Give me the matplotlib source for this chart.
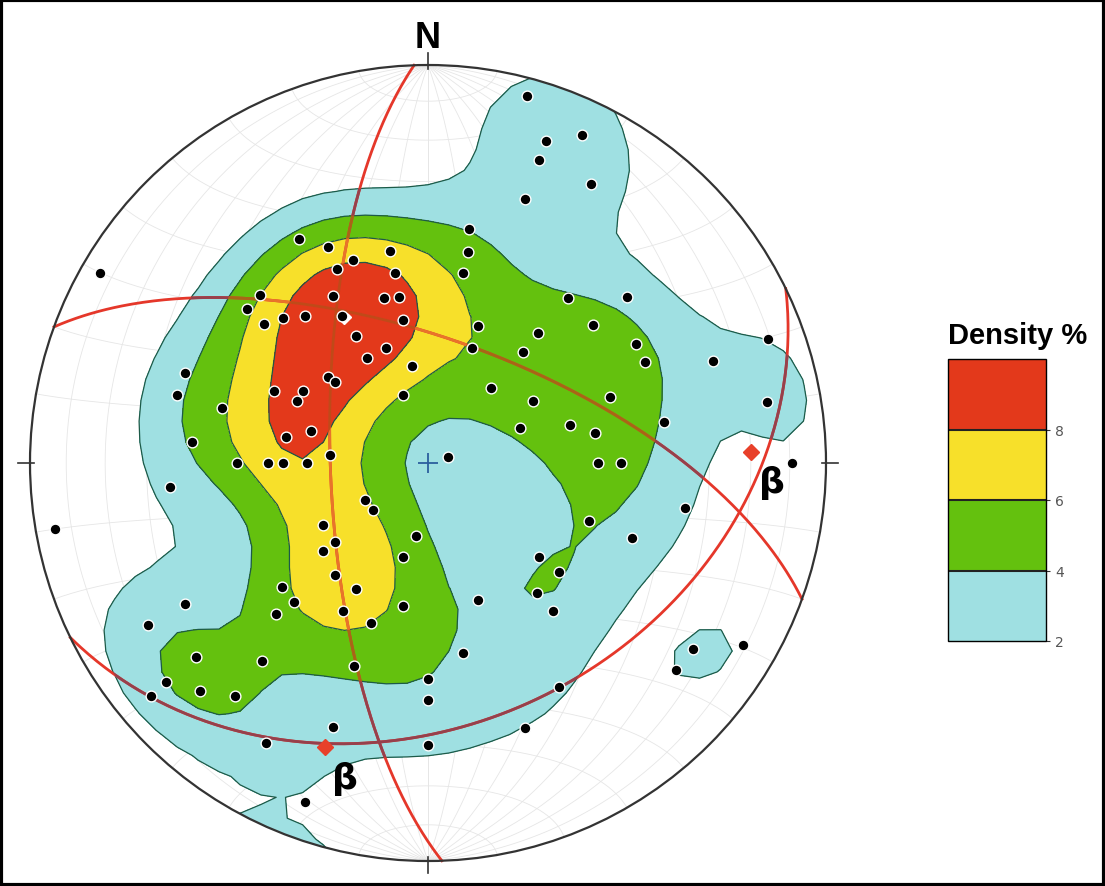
#!/usr/bin/env python3

"""pole density stereonet (equal area, lower hemisphere)"""

import numpy as np
import matplotlib.pyplot as plt
from matplotlib.patches import Circle, Rectangle

# poles, in net coordinates (east, north) of the unit primitive circle
pole_x = [-0.824, -0.324, -0.251, -0.095, -0.188, -0.229, -0.083, -0.422, -0.239, -0.111,
          -0.073, -0.455, -0.364, -0.309, -0.216, -0.412, -0.063, -0.181, -0.106, -0.153,
          -0.040, -0.251, -0.234, -0.611, -0.631, -0.387, -0.314, -0.329, -0.063, -0.518,
          -0.294, -0.357, -0.593, -0.246, -0.480, -0.402, -0.364, -0.304,
          0.249, 0.387, 0.296, 0.279, 0.410, 0.244, 0.103, 0.101, 0.088, 0.352,
          0.500, 0.126, 0.415, 0.276, 0.523, 0.111, 0.239, 0.545, 0.716, 0.854,
          0.158, 0.264, 0.457, 0.852, 0.231, 0.357, 0.420, 0.593, 0.050, 0.427,
          0.485, 0.915,
          -0.648, -0.937, -0.158, -0.138, -0.264, -0.234, -0.264, -0.030, -0.063, -0.234,
          -0.367, -0.181, -0.337, -0.611, -0.382, -0.214, -0.063, -0.143, -0.704, -0.583,
          -0.417, -0.186, -0.658, -0.573, -0.485, -0.696, 0.000, 0.000, -0.239, -0.407,
          0.000, -0.309,
          0.646, 0.405, 0.513, 0.279, 0.329, 0.126, 0.274, 0.314, 0.088, 0.666,
          0.791, 0.623, 0.329, 0.244]
pole_y = [0.477, 0.563, 0.543, 0.533, 0.510, 0.487, 0.477, 0.422, 0.420, 0.415,
          0.417, 0.387, 0.364, 0.369, 0.369, 0.349, 0.359, 0.319, 0.289, 0.264,
          0.244, 0.216, 0.204, 0.226, 0.171, 0.181, 0.181, 0.156, 0.171, 0.138,
          0.080, 0.065, 0.053, 0.020, 0.000, 0.000, 0.000, 0.000,
          0.922, 0.824, 0.809, 0.761, 0.701, 0.663, 0.588, 0.530, 0.477, 0.415,
          0.417, 0.344, 0.347, 0.327, 0.299, 0.289, 0.279, 0.254, 0.256, 0.312,
          0.188, 0.156, 0.166, 0.153, 0.088, 0.095, 0.075, 0.103, 0.015, 0.000,
          0.000, 0.000,
          -0.060, -0.166, -0.093, -0.118, -0.156, -0.198, -0.221, -0.183, -0.236, -0.281,
          -0.312, -0.317, -0.349, -0.354, -0.379, -0.372, -0.359, -0.402, -0.407, -0.487,
          -0.497, -0.510, -0.550, -0.573, -0.585, -0.585, -0.543, -0.595, -0.663, -0.704,
          -0.709, -0.852,
          -0.113, -0.146, -0.188, -0.236, -0.274, -0.344, -0.327, -0.372, -0.477, -0.467,
          -0.457, -0.520, -0.563, -0.666]

# great circles (dip direction, dip) in degrees
plane_dipdir = [268, 20, 154]
plane_dip = [70, 64.5, 35]

# beta axes (trend, plunge)
beta_trend = [88, 200]
beta_plunge = [20, 25]

density_levels = [2, 4, 6, 8, 100]
density_colors = ["#9fe0e2", "#64c10e", "#f7e02a", "#e3391b"]
# how the red great circles look on top of each density band
line_colors = ["#96404c", "#a86616", "#e8742a", "#c04a18"]


def to_vec(x, y):
    """inverse equal-area projection -> (east, north, down)"""
    r2 = np.clip(np.asarray(x) ** 2 + np.asarray(y) ** 2, 0, 2)
    s = np.sqrt(2 - r2)
    return np.asarray(x) * s, np.asarray(y) * s, 1 - r2


def project(e, n, d):
    """lower hemisphere equal-area projection"""
    flip = d < 0
    e, n, d = np.where(flip, -e, e), np.where(flip, -n, n), np.abs(d)
    f = 1 / np.sqrt(1 + d)
    return e * f, n * f


def great_circle(dipdir, dip):
    t = np.linspace(0, np.pi, 300)
    dd, dp = np.radians(dipdir), np.radians(dip)
    st = dd - np.pi / 2
    s = np.array([np.sin(st), np.cos(st), 0.0])
    dv = np.array([np.cos(dp) * np.sin(dd), np.cos(dp) * np.cos(dd), np.sin(dp)])
    v = np.outer(np.cos(t), s) + np.outer(np.sin(t), dv)
    return project(v[:, 0], v[:, 1], v[:, 2])


def small_circle(axis, alpha):
    p = np.linspace(0, np.pi, 200)
    a = np.radians(alpha)
    e = np.sin(a) * np.cos(p)
    n = np.full_like(p, axis * np.cos(a))
    d = np.sin(a) * np.sin(p)
    return project(e, n, d)


fig = plt.figure(figsize=(11.05, 8.87), dpi=100)
W, H = 1105, 887
cx, cy, R = 428, 464, 398
lim = 1.05
ax = fig.add_axes([(cx - lim * R) / W, (H - cy - lim * R) / H,
                   2 * lim * R / W, 2 * lim * R / H])
ax.set_xlim(-lim, lim)
ax.set_ylim(-lim, lim)
ax.set_aspect("equal")
ax.axis("off")

# schmidt net
for dip in range(10, 91, 10):
    for dd in (90, 270):
        gx, gy = great_circle(dd, dip)
        ax.plot(gx, gy, color="#e6e6e6", lw=0.6, zorder=1)
for a in range(10, 90, 10):
    for axis in (1, -1):
        gx, gy = small_circle(axis, a)
        ax.plot(gx, gy, color="#e6e6e6", lw=0.6, zorder=1)

# density: weighted % of poles inside a smooth counting window
px, py = np.array(pole_x), np.array(pole_y)
pe, pn, pd = to_vec(px, py)
g = np.linspace(-lim, lim, 41)
GX, GY = np.meshgrid(g, g)
ge, gn, gd = to_vec(GX, GY)
k = 30.0
cosang = np.abs(ge[..., None] * pe + gn[..., None] * pn + gd[..., None] * pd)
dens = 93.0 * np.exp(k * (cosang - 1)).sum(-1) / len(px)

clip = Circle((0, 0), 1, transform=ax.transData)
cs = ax.contourf(GX, GY, dens, levels=density_levels, colors=density_colors, zorder=2)
cs.set_clip_path(clip)
cl = ax.contour(GX, GY, dens, levels=density_levels[:-1], colors="#1d5a48",
                linewidths=0.9, zorder=3)
cl.set_clip_path(clip)

imax = np.unravel_index(np.argmax(np.where(GX ** 2 + GY ** 2 < 1, dens, 0)), dens.shape)
ax.plot(GX[imax], GY[imax], "D", color="white", ms=7, zorder=4)

# primitive and ticks
ax.add_patch(Circle((0, 0), 1, fill=False, ec="#333333", lw=1.6, zorder=6))
for ang in (0, 90, 180, 270):
    a = np.radians(ang)
    ax.plot([0.99 * np.sin(a), 1.03 * np.sin(a)], [0.99 * np.cos(a), 1.03 * np.cos(a)],
            color="#333333", lw=1.2, zorder=6, clip_on=False)
ax.text(0, 1.046, "N", ha="center", va="baseline", fontsize=26, fontweight="bold",
        family="Liberation Sans")
ax.plot(0, 0, "+", color="#2b5f9e", ms=14, mew=1.3, zorder=5)

# great circles: bright red on white, darker where they cross the density bands
band_paths = cs.get_paths()
for dd, dp in zip(plane_dipdir, plane_dip):
    gx, gy = great_circle(dd, dp)
    ax.plot(gx, gy, color="#e5372a", lw=2.0, zorder=5)
    for path, lc in zip(band_paths, line_colors):
        if len(path.vertices) == 0:
            continue
        (ln,) = ax.plot(gx, gy, color=lc, lw=2.0, zorder=5.1)
        ln.set_clip_path(path, ax.transData)

ax.scatter(px, py, s=60, color="black", edgecolor="white", linewidth=1.0, zorder=7)

bt, bp = np.radians(beta_trend), np.radians(beta_plunge)
bx, by = project(np.cos(bp) * np.sin(bt), np.cos(bp) * np.cos(bt), np.sin(bp))
ax.plot(bx, by, "D", color="#e8402a", ms=8, zorder=8)
for x, y in zip(bx, by):
    ax.annotate("β", (x, y), xytext=(15, -22), textcoords="offset points",
                ha="center", va="center", fontsize=26, fontweight="bold")

# legend bar
cax = fig.add_axes([948 / W, (H - 642) / H, 98 / W, 282 / H])
cb = fig.colorbar(cs, cax=cax, ticks=[2, 4, 6, 8], drawedges=True)
cb.outline.set_linewidth(1.0)
cb.dividers.set_color("#222222")
cb.dividers.set_linewidth(1.5)
cax.tick_params(labelsize=10, labelcolor="#555555", length=3, color="#333333")
fig.text(1018 / W, 1 - 336 / H, "Density %", ha="center", va="center",
         fontsize=21, fontweight="bold", family="Liberation Sans")

fig.patches.append(Rectangle((0.001, 0.001), 0.998, 0.998, transform=fig.transFigure,
                             fill=False, ec="black", lw=3))

fig.savefig("out.png", dpi=100)
